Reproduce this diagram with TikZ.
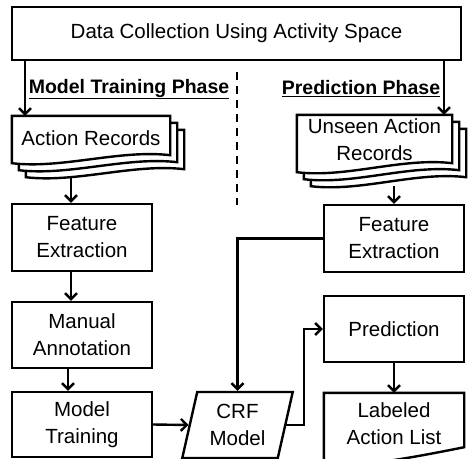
\documentclass[tikz,border=0pt]{standalone}
\usepackage{fontspec}
\setmainfont{Liberation Sans}
\usetikzlibrary{arrows.meta,calc,shapes.geometric}
\pgfdeclarelayer{bg}
\pgfsetlayers{bg,main}
\tikzset{
	txt/.style={align=center, inner sep=0pt, font=\fontsize{20.5}{27}\selectfont},
	box/.style={txt, draw, line width=2.4pt, minimum width=140pt},
	page/.style={draw, fill=white, line width=2.4pt},
	flow/.style={line width=2.4pt, -{Straight Barb[length=6pt,width=12pt]}}
}

\begin{document}
\begin{tikzpicture}[x=1pt,y=-1pt]
	\useasboundingbox (0,0) rectangle (468,458);

	%columns of the arrows
	\coordinate (colL) at (25,0);
	\coordinate (colA) at (71,0);
	\coordinate (colM) at (68,0);
	\coordinate (colR) at (444,0);
	\coordinate (colP) at (304,0);
	\coordinate (dashT) at (237,72);
	\coordinate (dashB) at (237,205);

	%boxes
	\node[box, minimum width=449pt, minimum height=53pt] (top) at (236.5,33.5) {Data Collection Using Activity Space};
	\node[txt, font=\fontsize{19.5}{23}\selectfont\bfseries] (mtp) at (129,89) {\underline{Model Training Phase}};
	\node[txt, font=\fontsize{19.5}{23}\selectfont\bfseries] (pp) at (361,89) {\underline{Prediction Phase}};
	\node[txt, minimum width=158pt, minimum height=44pt] (ar) at (91,138) {Action Records};
	\node[txt, minimum width=155pt, minimum height=50pt] (ua) at (374.5,140) {Unseen Action\\Records};
	\node[box, minimum height=67pt] (fe1) at (82,237.5) {Feature\\Extraction};
	\node[box, minimum height=66pt] (ma) at (82,335) {Manual\\Annotation};
	\node[box, minimum height=65pt] (mt) at (82,424.5) {Model\\Training};
	\node[box, minimum height=67pt] (fe2) at (394,238.5) {Feature\\Extraction};
	\node[box, minimum height=66pt] (pred) at (394,329) {Prediction};
	\node[txt, minimum width=140pt, minimum height=62pt] (lab) at (394,424) {Labeled\\Action List};
	\node[txt, draw, line width=2.4pt, trapezium, trapezium left angle=76, trapezium right angle=104,
		trapezium stretches=true, minimum width=111pt, minimum height=66pt] (crf) at (237.5,425) {CRF\\Model};

	%document pages
	\begin{pgfonlayer}{bg}
		\foreach \d in {14,7,0}
			\draw[page] ($(ar.north west)+(\d,\d)$) -- ($(ar.north east)+(\d,\d)$) -- ($(ar.south east)+(\d,\d-5)$)
				.. controls ($(ar.south east)+(\d-50,\d-11)$) and ($(ar.south west)+(\d+50,\d+9)$) .. ($(ar.south west)+(\d,\d+3)$) -- cycle;
		\foreach \d in {14,7,0}
			\draw[page] ($(ua.north west)+(\d,\d)$) -- ($(ua.north east)+(\d,\d)$) -- ($(ua.south east)+(\d,\d-2)$)
				.. controls ($(ua.south east)+(\d-50,\d-8)$) and ($(ua.south west)+(\d+50,\d+13)$) .. ($(ua.south west)+(\d,\d+7)$) -- cycle;
		\draw[page] (lab.north west) -- (lab.north east) -- ($(lab.south east)+(0,-8)$)
			.. controls ($(lab.south east)+(-40,0)$) and ($(lab.south west)+(50,10)$) .. ($(lab.south west)+(0,12)$) -- cycle;
	\end{pgfonlayer}

	%phase divider
	\draw[line width=2.4pt, dash pattern=on 8pt off 6pt] (dashT) -- (dashB);

	%arrows
	\draw[flow] (top.south -| colL) -- (ar.north -| colL);
	\draw[flow] (top.south -| colR) -- (ua.north -| colR);
	\draw[flow] ($(ar.south -| colA)+(0,16)$) -- (fe1.north -| colA);
	\draw[flow] (fe1.south -| colA) -- (ma.north -| colA);
	\draw[flow] (ma.south -| colM) -- (mt.north -| colM);
	\draw[flow] (mt.east) -- (crf.west);
	\draw[flow] ($(ua.south -| fe2)+(0,21)$) -- (fe2.north);
	\draw[flow] (fe2.west) -| (crf.center |- crf.north);
	\draw[flow] (crf.east) -- (crf.east -| colP) |- (pred.west);
	\draw[flow] (pred.south) -- (lab.north);
\end{tikzpicture}
\end{document}
